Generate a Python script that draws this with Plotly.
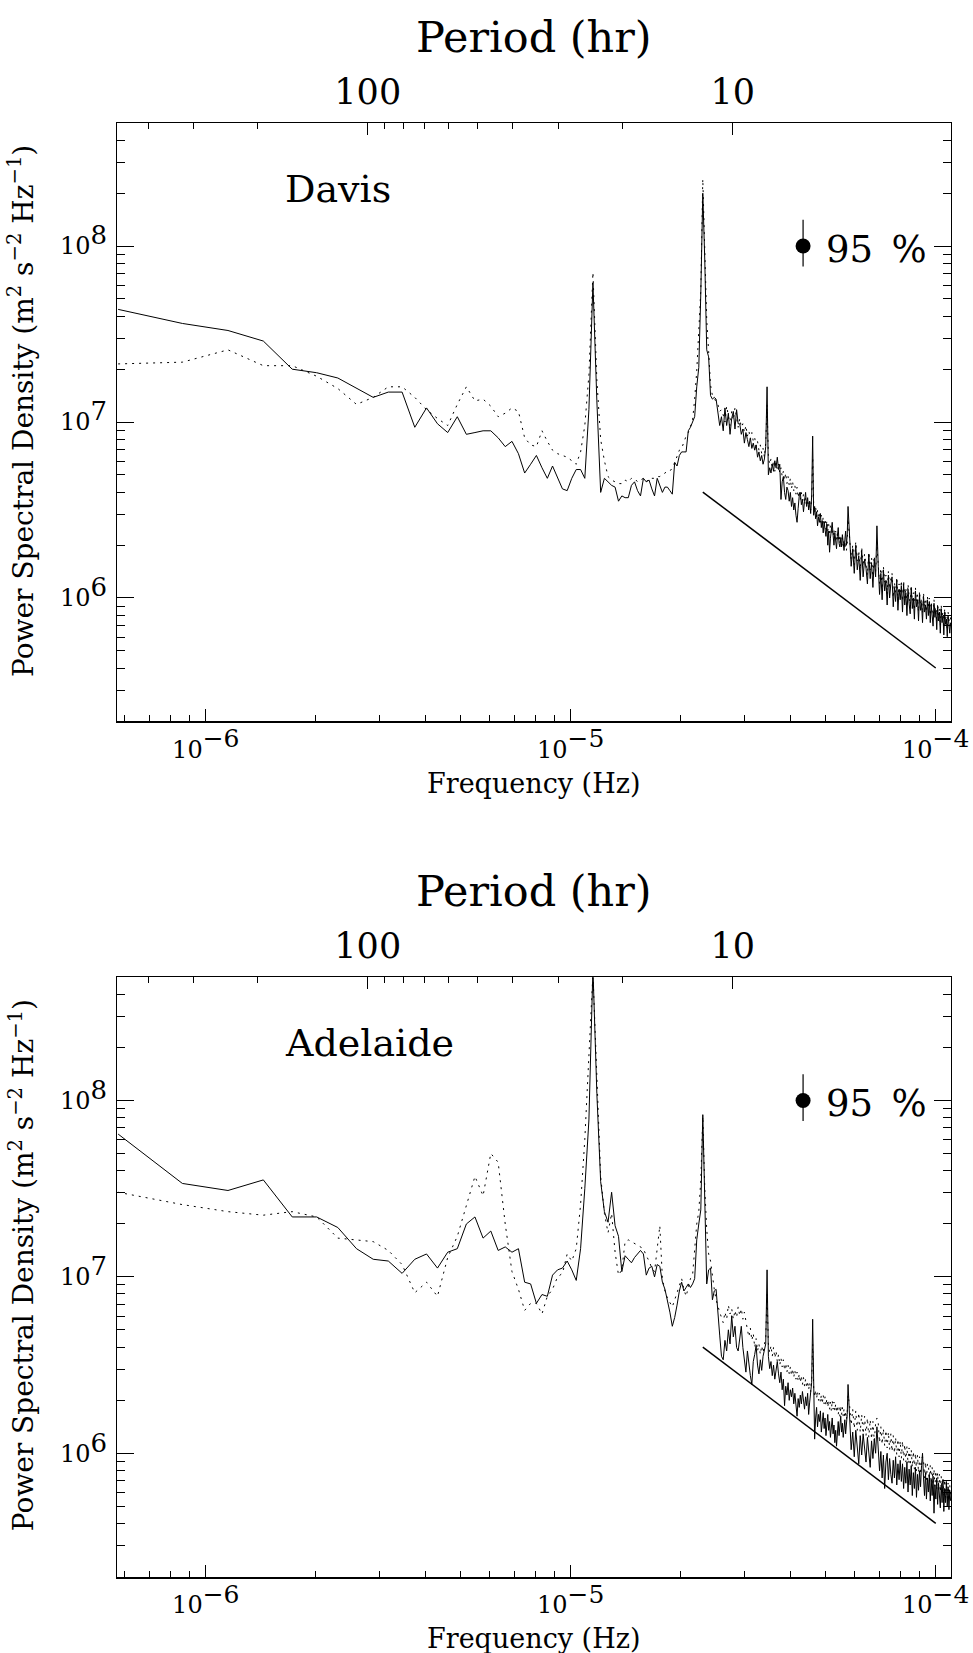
import numpy as np
import plotly.graph_objects as go

# ---------------- data ----------------
DF = 2.875e-7                     # periodogram frequency resolution (Hz)
K = list(range(2, 201)) + list(range(202, 383, 2))   # harmonic indices plotted

# log10 power spectral density, Davis (solid = one component, dotted = other)
DAVIS_SOLID_LOW = [7.64, 7.56, 7.52, 7.46, 7.30, 7.28, 7.25, 7.19, 7.14,
    7.17, 7.17, 6.97, 7.08, 6.99, 6.94, 7.03, 6.93, 6.94, 6.95,
    6.95, 6.91, 6.86, 6.89, 6.82, 6.71, 6.76, 6.81, 6.74, 6.68,
    6.75, 6.68, 6.62, 6.61, 6.68, 6.73, 6.73, 6.68, 7.07, 7.79,
    7.12, 6.60, 6.68, 6.66, 6.64, 6.63, 6.55, 6.58, 6.57, 6.57,
    6.64, 6.66, 6.61, 6.58, 6.68, 6.66, 6.67, 6.62, 6.58, 6.68,
    6.64, 6.60, 6.63, 6.63, 6.61, 6.59, 6.77, 6.75, 6.81, 6.83,
    6.83, 6.83, 6.95, 6.97, 7.00, 7.03, 7.20, 7.31, 7.73, 8.30,
    7.92, 7.41, 7.37, 7.15, 7.13, 7.14, 7.13, 7.06, 6.98, 7.03]
DAVIS_SOLID_MID = [6.95, 7.08, 6.98, 7.05, 6.93, 7.02, 7.06, 6.96, 7.07, 6.99,
    6.99, 6.93, 6.96, 6.88, 6.94, 6.90, 6.86, 6.91, 6.85, 6.88,
    6.84, 6.87, 6.80, 6.83, 6.78, 6.81, 6.76, 6.79, 6.86, 7.20,
    6.70, 6.74, 6.71, 6.76, 6.72, 6.78, 6.74, 6.80, 6.73, 6.76,
    6.56, 6.66, 6.69, 6.60, 6.56, 6.63, 6.61, 6.55, 6.60, 6.52,
    6.57, 6.50, 6.54, 6.47, 6.43, 6.51, 6.58, 6.60, 6.53, 6.56,
    6.49, 6.55, 6.60, 6.52, 6.57, 6.50, 6.55, 6.48, 6.58, 6.92,
    6.47, 6.52, 6.45, 6.49, 6.41, 6.46, 6.43, 6.48, 6.40, 6.44,
    6.37, 6.43, 6.40, 6.35, 6.42, 6.30, 6.38, 6.26, 6.34, 6.39,
    6.43, 6.36, 6.30, 6.37, 6.33, 6.28, 6.35, 6.40, 6.31, 6.29,
    6.34, 6.29, 6.36, 6.31, 6.27, 6.33, 6.38, 6.30, 6.36, 6.52]
DAVIS_SOLID_HIGH = [6.32, 6.18, 6.28, 6.14, 6.30, 6.16, 6.24, 6.10, 6.27, 6.12,
    6.22, 6.17, 6.08, 6.25, 6.11, 6.20, 6.06, 6.22, 6.12, 6.41,
    6.18, 6.02, 6.14, 5.99, 6.16, 6.04, 6.10, 5.96, 6.13, 6.00,
    6.08, 6.12, 5.95, 6.06, 5.98, 6.10, 5.93, 6.05, 5.99, 6.07,
    5.92, 6.08, 5.96, 6.03, 5.90, 6.05, 5.97, 5.91, 6.06, 5.94,
    6.00, 5.88, 6.04, 5.95, 5.99, 5.87, 6.02, 5.93, 5.97, 5.86,
    6.01, 5.92, 5.96, 5.88, 5.99,
    5.90, 5.98, 5.86, 5.96, 5.91, 5.84, 5.97, 5.89, 5.93, 5.82,
    5.95, 5.87, 5.92, 5.80, 5.94, 5.86, 5.90, 5.79, 5.92, 5.85,
    5.88, 5.78, 5.90, 5.84, 5.80, 5.86]

DAVIS_DOTTED_LOW = [7.33, 7.34, 7.41, 7.32, 7.32, 7.26, 7.19, 7.10, 7.14,
    7.20, 7.20, 7.14, 7.07, 7.02, 6.98, 7.10, 7.20, 7.12, 7.13,
    7.09, 7.03, 7.05, 7.08, 7.06, 6.91, 6.87, 6.86, 6.95, 6.89,
    6.84, 6.82, 6.81, 6.80, 6.78, 6.76, 6.83, 6.98, 7.27, 7.85,
    7.24, 6.90, 6.78, 6.69, 6.67, 6.66, 6.65, 6.65, 6.67, 6.66,
    6.68, 6.68, 6.66, 6.67, 6.68, 6.66, 6.68, 6.68, 6.68, 6.69,
    6.69, 6.70, 6.71, 6.72, 6.72, 6.74, 6.77, 6.81, 6.84, 6.85,
    6.89, 6.92, 6.94, 6.98, 7.01, 7.13, 7.29, 7.52, 7.75, 8.38,
    8.04, 7.58, 7.40, 7.21, 7.15, 7.14, 7.11, 7.10, 7.06, 7.07]
DAVIS_DOTTED_MID = [7.04, 7.00, 7.09, 7.03, 6.98, 7.06, 7.01, 7.08, 7.02, 6.97,
    7.02, 6.97, 6.99, 6.94, 6.98, 6.92, 6.95, 6.90, 6.94, 6.89,
    6.91, 6.86, 6.89, 6.84, 6.87, 6.82, 6.85, 6.80, 6.88, 7.10,
    6.80, 6.76, 6.79, 6.74, 6.78, 6.72, 6.77, 6.73, 6.76, 6.71,
    6.74, 6.69, 6.72, 6.67, 6.71, 6.65, 6.69, 6.64, 6.68, 6.62,
    6.66, 6.61, 6.64, 6.59, 6.63, 6.57, 6.61, 6.56, 6.60, 6.55,
    6.59, 6.54, 6.57, 6.52, 6.56, 6.51, 6.55, 6.50, 6.56, 6.80,
    6.53, 6.48, 6.52, 6.46, 6.50, 6.45, 6.49, 6.43, 6.47, 6.42,
    6.46, 6.41, 6.45, 6.39, 6.44, 6.38, 6.42, 6.37, 6.41, 6.36,
    6.40, 6.35, 6.39, 6.34, 6.38, 6.33, 6.37, 6.32, 6.36, 6.31,
    6.35, 6.30, 6.34, 6.29, 6.33, 6.28, 6.32, 6.27, 6.31, 6.45]
DAVIS_DOTTED_HIGH = [6.34, 6.22, 6.30, 6.19, 6.32, 6.21, 6.27, 6.16, 6.29, 6.18,
    6.25, 6.20, 6.13, 6.26, 6.16, 6.23, 6.12, 6.24, 6.15, 6.30,
    6.20, 6.08, 6.17, 6.05, 6.18, 6.09, 6.13, 6.02, 6.15, 6.05,
    6.11, 6.14, 6.00, 6.09, 6.03, 6.12, 5.99, 6.08, 6.02, 6.10,
    5.98, 6.10, 6.00, 6.06, 5.95, 6.08, 6.01, 5.96, 6.07, 5.98,
    6.03, 5.93, 6.06, 5.98, 6.02, 5.92, 6.04, 5.96, 6.00, 5.91,
    6.03, 5.95, 5.99, 5.92, 6.01,
    5.94, 6.00, 5.90, 5.98, 5.94, 5.88, 5.99, 5.92, 5.95, 5.86,
    5.97, 5.90, 5.94, 5.84, 5.96, 5.89, 5.92, 5.83, 5.94, 5.88,
    5.90, 5.82, 5.92, 5.87, 5.84, 5.89]

# Adelaide
ADEL_SOLID_LOW = [7.81, 7.53, 7.49, 7.55, 7.34, 7.34, 7.28, 7.16, 7.10,
    7.09, 7.02, 7.10, 7.13, 7.05, 7.14, 7.16, 7.30, 7.34, 7.22,
    7.26, 7.15, 7.17, 7.14, 7.16, 6.97, 6.96, 6.85, 6.90, 6.89,
    7.01, 7.04, 7.05, 7.09, 7.04, 6.98, 7.16, 7.50, 7.89, 8.75,
    8.04, 7.54, 7.37, 7.31, 7.48, 7.29, 7.23, 7.03, 7.12, 7.10,
    7.08, 7.11, 7.13, 7.15, 7.13, 7.01, 7.05, 7.06, 7.00, 7.07,
    7.06, 6.97, 6.93, 6.87, 6.80, 6.72, 6.77, 6.84, 6.92, 6.97,
    6.92, 6.94, 6.96, 6.94, 6.96, 6.99, 7.21, 7.30, 7.38, 7.92,
    7.50, 6.96, 7.04, 7.05, 6.87, 6.92, 6.93, 6.77, 6.67, 6.55]
ADEL_SOLID_MID = [6.53, 6.64, 6.58, 6.70, 6.62, 6.78, 6.66, 6.72, 6.60, 6.58,
    6.66, 6.72, 6.60, 6.52, 6.46, 6.58, 6.50, 6.44, 6.39, 6.52,
    6.56, 6.61, 6.50, 6.45, 6.53, 6.47, 6.55, 6.58, 6.62, 7.04,
    6.55, 6.48, 6.52, 6.44, 6.50, 6.42, 6.47, 6.52, 6.45, 6.40,
    6.46, 6.36, 6.42, 6.27, 6.38, 6.33, 6.40, 6.30, 6.36, 6.32,
    6.37, 6.28, 6.34, 6.25, 6.21, 6.31, 6.26, 6.33, 6.28, 6.35,
    6.30, 6.25, 6.32, 6.27, 6.34, 6.22, 6.29, 6.36, 6.40, 6.76,
    6.30, 6.08, 6.20, 6.26, 6.15, 6.22, 6.18, 6.24, 6.12, 6.19,
    6.23, 6.14, 6.20, 6.10, 6.17, 6.22, 6.13, 6.18, 6.09, 6.15,
    6.20, 6.11, 6.16, 6.06, 6.13, 6.04, 6.12, 6.18, 6.10, 6.16,
    6.21, 6.12, 6.17, 6.09, 6.14, 6.19, 6.11, 6.16, 6.22, 6.39]
ADEL_SOLID_HIGH = [6.16, 6.02, 6.12, 5.98, 6.13, 6.04, 5.94, 6.10, 5.99, 6.11,
    6.01, 5.95, 6.09, 6.00, 5.92, 6.07, 5.97, 6.08, 6.00, 6.15,
    6.03, 5.90, 6.01, 5.86, 5.99, 5.80, 5.95, 6.00, 5.85, 5.97,
    5.88, 5.83, 5.96, 5.86, 5.98, 5.82, 5.94, 5.85, 5.96, 5.84,
    5.94, 5.80, 5.92, 5.83, 5.95, 5.78, 5.91, 5.82, 5.93, 5.76,
    5.89, 5.80, 5.92, 5.75, 5.88, 5.79, 5.90, 5.81, 5.93, 6.00,
    5.86, 5.76, 5.89, 5.74, 5.86,
    5.78, 5.88, 5.73, 5.85, 5.76, 5.87, 5.66, 5.82, 5.74, 5.86,
    5.71, 5.83, 5.75, 5.69, 5.82, 5.72, 5.85, 5.67, 5.80, 5.72,
    5.84, 5.70, 5.81, 5.68, 5.79, 5.73]

ADEL_DOTTED_LOW = [7.48, 7.41, 7.37, 7.35, 7.37, 7.34, 7.22, 7.21, 7.20,
    7.15, 7.07, 6.91, 6.97, 6.89, 7.11, 7.23, 7.40, 7.57, 7.46,
    7.70, 7.65, 7.30, 7.03, 6.93, 6.81, 6.85, 6.85, 6.79, 6.89,
    6.93, 7.00, 7.02, 7.13, 7.09, 7.16, 7.41, 7.78, 8.29, 8.72,
    8.14, 7.57, 7.36, 7.25, 7.36, 7.14, 7.01, 7.04, 7.20, 7.21,
    7.20, 7.19, 7.18, 7.17, 7.16, 7.12, 7.09, 7.05, 7.03, 7.16,
    7.29, 6.99, 6.92, 6.88, 6.85, 6.83, 6.87, 6.91, 6.96, 6.99,
    6.93, 6.89, 6.94, 6.99, 7.01, 7.18, 7.30, 7.37, 7.55, 7.91,
    7.50, 7.27, 7.13, 7.09, 6.99, 6.93, 6.87, 6.83, 6.80, 6.77]
ADEL_DOTTED_MID = [6.74, 6.80, 6.76, 6.84, 6.79, 6.82, 6.76, 6.81, 6.77, 6.83,
    6.78, 6.82, 6.76, 6.80, 6.74, 6.70, 6.66, 6.71, 6.64, 6.68,
    6.60, 6.65, 6.58, 6.62, 6.56, 6.61, 6.57, 6.63, 6.66, 6.90,
    6.62, 6.57, 6.61, 6.55, 6.60, 6.54, 6.58, 6.52, 6.56, 6.50,
    6.54, 6.49, 6.53, 6.47, 6.51, 6.46, 6.50, 6.45, 6.49, 6.44,
    6.48, 6.43, 6.47, 6.42, 6.46, 6.41, 6.45, 6.40, 6.44, 6.39,
    6.43, 6.38, 6.42, 6.37, 6.41, 6.36, 6.40, 6.35, 6.41, 6.62,
    6.37, 6.32, 6.36, 6.31, 6.35, 6.30, 6.34, 6.29, 6.33, 6.28,
    6.33, 6.28, 6.32, 6.27, 6.31, 6.26, 6.30, 6.25, 6.29, 6.24,
    6.30, 6.25, 6.29, 6.24, 6.28, 6.23, 6.27, 6.22, 6.26, 6.21,
    6.27, 6.22, 6.26, 6.21, 6.25, 6.20, 6.24, 6.19, 6.23, 6.33]
ADEL_DOTTED_HIGH = [6.27, 6.16, 6.25, 6.14, 6.24, 6.13, 6.23, 6.12, 6.22, 6.11,
    6.21, 6.10, 6.20, 6.09, 6.19, 6.08, 6.18, 6.07, 6.17, 6.20,
    6.17, 6.06, 6.15, 6.05, 6.14, 6.04, 6.13, 6.03, 6.12, 6.02,
    6.11, 6.01, 6.10, 6.00, 6.09, 5.99, 6.08, 5.98, 6.07, 5.97,
    6.07, 5.96, 6.05, 5.95, 6.04, 5.94, 6.03, 5.93, 6.02, 5.92,
    6.01, 5.91, 6.00, 5.90, 5.99, 5.89, 5.98, 5.88, 5.97, 5.98,
    5.96, 5.86, 5.95, 5.85, 5.94,
    5.94, 5.84, 5.93, 5.83, 5.92, 5.82, 5.91, 5.81, 5.90, 5.80,
    5.89, 5.79, 5.88, 5.78, 5.87, 5.77, 5.86, 5.76, 5.85, 5.75,
    5.84, 5.74, 5.83, 5.73, 5.82, 5.75]

# reference spectral slope line
REF_F = [2.3e-5, 1.0e-4]
REF_P = [4.0e6, 4.0e5]

# 95 % confidence bar
CI_F = 4.33e-5
CI_P = 1.0e8
CI_HI = 1.41e8
CI_LO = 0.766e8

# axis ticks
XTICKS = [1e-6, 1e-5, 1e-4]
XEXP = ["\u22126", "\u22125", "\u22124"]
YTICKS = [1e6, 1e7, 1e8]
YEXP = ["6", "7", "8"]
PERIOD_MAJOR = [100, 10]
PERIOD_MINOR = [400, 300, 200, 90, 80, 70, 60, 50, 40, 30, 20]

# ---------------- build ----------------
freq = DF * np.array(K, dtype=float)

def series(low, mid, high):
    v = np.array(low + mid + high, dtype=float)
    assert len(v) == len(K), (len(v), len(K))
    return 10.0 ** v

panels = [
    dict(name="Davis", solid=series(DAVIS_SOLID_LOW, DAVIS_SOLID_MID, DAVIS_SOLID_HIGH),
         dotted=series(DAVIS_DOTTED_LOW, DAVIS_DOTTED_MID, DAVIS_DOTTED_HIGH),
         xa="x", ya="y", xt="x3"),
    dict(name="Adelaide", solid=series(ADEL_SOLID_LOW, ADEL_SOLID_MID, ADEL_SOLID_HIGH),
         dotted=series(ADEL_DOTTED_LOW, ADEL_DOTTED_MID, ADEL_DOTTED_HIGH),
         xa="x2", ya="y2", xt="x4"),
]

FONT = "DejaVu Serif"
fig = go.Figure()
for p in panels:
    fig.add_trace(go.Scatter(x=freq, y=p["dotted"], mode="lines",
                             line=dict(color="black", width=1, dash="2px,5px"),
                             xaxis=p["xa"], yaxis=p["ya"], showlegend=False))
    fig.add_trace(go.Scatter(x=freq, y=p["solid"], mode="lines",
                             line=dict(color="black", width=1),
                             xaxis=p["xa"], yaxis=p["ya"], showlegend=False))
    fig.add_trace(go.Scatter(x=REF_F, y=REF_P, mode="lines",
                             line=dict(color="black", width=1.5),
                             xaxis=p["xa"], yaxis=p["ya"], showlegend=False))
    fig.add_trace(go.Scatter(x=[CI_F], y=[CI_P], mode="markers",
                             marker=dict(size=15, color="black"),
                             error_y=dict(type="data", symmetric=False,
                                          array=[CI_HI - CI_P], arrayminus=[CI_P - CI_LO],
                                          width=0, thickness=1.2, color="black"),
                             xaxis=p["xa"], yaxis=p["ya"], showlegend=False))
    fig.add_trace(go.Scatter(x=[], y=[], mode="lines", xaxis=p["xt"], yaxis=p["ya"],
                             showlegend=False))

W, H = 973, 1653
XR = [np.log10(5.71e-7), np.log10(1.101e-4)]
YR = [np.log10(2e5), np.log10(5e8)]
XDOM = [117 / W, 951 / W]
YDOMS = [[1 - 721 / H, 1 - 123 / H], [1 - 1576.5 / H, 1 - 977.3 / H]]

x_minor = [m * 10.0 ** e for e in (-7, -6, -5) for m in range(2, 10)]
y_minor = [m * 10.0 ** e for e in (5, 6, 7, 8) for m in range(2, 10)]
pmaj = [1.0 / (3600 * P) for P in PERIOD_MAJOR]
pmin = [1.0 / (3600 * P) for P in PERIOD_MINOR]

def sup(base, e, size):
    return f"{base}<sup><span style='font-size:{size}px'>{e}</span></sup>"

def xaxis_bottom(anchor):
    return dict(type="log", range=XR, domain=XDOM, anchor=anchor, automargin=False,
                showline=True, linecolor="black", linewidth=1.5, mirror=False,
                showgrid=False, zeroline=False,
                ticks="inside", ticklen=12, tickwidth=1, tickcolor="black",
                tickmode="array", tickvals=XTICKS,
                ticktext=[sup("10", e, 25) for e in XEXP],
                tickfont=dict(family=FONT, size=24, color="black"),
                ticklabelstandoff=6,
                minor=dict(ticks="inside", ticklen=6, tickwidth=1, tickcolor="black",
                           tickmode="array", tickvals=x_minor, showgrid=False))

def xaxis_top(over, anchor):
    return dict(type="log", range=XR, overlaying=over, side="top", anchor=anchor,
                automargin=False,
                showline=True, linecolor="black", linewidth=1.2,
                showgrid=False, zeroline=False,
                ticks="inside", ticklen=12, tickwidth=1, tickcolor="black",
                tickmode="array", tickvals=pmaj, ticktext=[str(P) for P in PERIOD_MAJOR],
                tickfont=dict(family=FONT, size=35, color="black"),
                ticklabelstandoff=4,
                minor=dict(ticks="inside", ticklen=6, tickwidth=1, tickcolor="black",
                           tickmode="array", tickvals=pmin, showgrid=False))

def yaxis(dom, anchor):
    return dict(type="log", range=YR, domain=dom, anchor=anchor, automargin=False,
                showline=True, linecolor="black", linewidth=1.2, mirror="ticks",
                showgrid=False, zeroline=False,
                ticks="inside", ticklen=17, tickwidth=1, tickcolor="black",
                tickmode="array", tickvals=YTICKS,
                ticktext=[sup("10", e, 26) for e in YEXP],
                tickfont=dict(family=FONT, size=24, color="black"),
                ticklabelstandoff=4,
                minor=dict(ticks="inside", ticklen=8, tickwidth=1, tickcolor="black",
                           tickmode="array", tickvals=y_minor, showgrid=False))

annotations = []
for i, p in enumerate(panels):
    off = 0 if i == 0 else 854.3
    def add(text, xpx, ypx, size, xanchor="center", angle=0):
        annotations.append(dict(text=text, xref="paper", yref="paper",
                                x=xpx / W, y=1 - (ypx + off) / H,
                                xanchor=xanchor, yanchor="middle", showarrow=False,
                                textangle=angle,
                                font=dict(family=FONT, size=size, color="black")))
    add("Period (hr)", 534, 37, 43)
    add("Frequency (Hz)", 533, 784, 27)
    add("Power Spectral Density (m<sup>2</sup> s<sup>\u22122</sup> Hz<sup>\u22121</sup>)",
        22, 411, 28, angle=-90)
    add(p["name"], 283, 189, 38, xanchor="left")
    add("95\u2002%", 824, 249, 37, xanchor="left")

fig.update_layout(
    width=W, height=H, autosize=False,
    margin=dict(l=0, r=0, t=0, b=0, pad=0, autoexpand=False),
    paper_bgcolor="white", plot_bgcolor="white", showlegend=False,
    xaxis=xaxis_bottom("y"), yaxis=yaxis(YDOMS[0], "x"),
    xaxis2=xaxis_bottom("y2"), yaxis2=yaxis(YDOMS[1], "x2"),
    xaxis3=xaxis_top("x", "y"), xaxis4=xaxis_top("x2", "y2"),
    annotations=annotations,
)

fig.write_html("out.html")
